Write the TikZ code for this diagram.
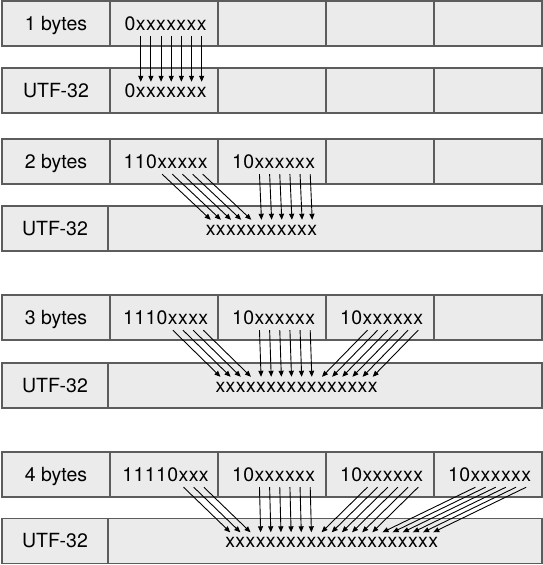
\documentclass[tikz,border=0pt]{standalone}
\usepackage{fontspec}
\setmainfont{TeX Gyre Heros}
\usepackage{tikz}
\usetikzlibrary{arrows.meta,calc}
\definecolor{cellfill}{HTML}{EBEBEB}
\definecolor{cellstroke}{HTML}{5C5C5C}
\newcommand{\bitfont}{\fontsize{19.5}{23}\selectfont}
\newlength{\bitlen}
\newlength{\zerowd}
\newlength{\xwd}
% glyph widths, taken before any picture (fonts are off inside one)
\AtBeginDocument{%
  \setbox0\hbox{\normalfont\bitfont 0}\global\zerowd=\wd0
  \setbox0\hbox{\normalfont\bitfont x}\global\xwd=\wd0
}
\tikzset{
  cell/.style={draw=cellstroke, fill=cellfill, line width=1.1pt,
               minimum width=108pt, minimum height=45pt, inner sep=0pt,
               text height=14pt, text depth=0pt, font=\bitfont},
  utfcell/.style={cell, minimum width=106pt},
  widecell/.style={cell, minimum width=434pt},
  bit/.style={inner xsep=0pt, inner ysep=5.5pt, text height=10pt,
              text depth=0pt, font=\bitfont},
  bitarrow/.style={-{Triangle[length=6pt,width=5pt]}, line width=0.9pt}
}
% one node per character, set side by side on a common baseline
\newcommand{\bitrow}[3]{%
  \edef\bitlist{#3}%
  \foreach \c [count=\i] in \bitlist {
    \ifnum\i=1\relax
      \node[bit, anchor=base west] (#1-\i) at (#2) {\c};
    \else
      \pgfmathtruncatemacro{\prevbit}{\i-1}
      \node[bit, anchor=base west] (#1-\i) at (#1-\prevbit.base east) {\c};
    \fi
  }%
}
% total width of such a row, kept in \rowwd (digits 0 and 1 are equally wide)
\newcommand{\bitwidth}[1]{%
  \gdef\rowwd{0}%
  \edef\bitlist{#1}%
  \foreach \c in \bitlist {%
    \if x\c \setlength{\bitlen}{\xwd}\else \setlength{\bitlen}{\zerowd}\fi
    \pgfmathsetmacro{\rowwdnew}{\rowwd+\bitlen}%
    \xdef\rowwd{\rowwdnew}%
  }%
}
% a row centred in a cell
\newcommand{\bytebits}[3]{%
  \bitwidth{#3}%
  \bitrow{#1}{$(#2.center)+(-\rowwd/2,-7)$}{#3}%
}

\begin{document}
\begin{tikzpicture}[x=1pt, y=1pt]
  \useasboundingbox (0,0) rectangle (543,565);

  % ===== Byte rows: label + four byte cells =====
  \foreach \r/\ytop/\lab in {1/541.5/1 bytes, 2/403.5/2 bytes,
                             3/247.5/3 bytes, 4/90.5/4 bytes} {
    \node[cell] (r\r-0) at (56,\ytop) {\lab};
    \foreach \k in {1,...,4}
      \node[cell] (r\r-\k) at (56+108*\k,\ytop) {};
  }

  % ===== UTF-32 rows =====
  \node[cell] (u1-0) at (56,474.5) {UTF-32};
  \foreach \k in {1,...,4}
    \node[cell] (u1-\k) at (56+108*\k,474.5) {};
  \foreach \r/\y in {2/336.5, 3/179.5, 4/24} {
    \node[utfcell]  (u\r-0) at (55,\y)  {UTF-32};
    \node[widecell] (u\r-1) at (325,\y) {};
  }

  % ===== Encoded bytes =====
  \foreach \nm/\cl/\bits in {
      b1-1/r1-1/{0,x,x,x,x,x,x,x},
      b2-1/r2-1/{1,1,0,x,x,x,x,x}, b2-2/r2-2/{1,0,x,x,x,x,x,x},
      b3-1/r3-1/{1,1,1,0,x,x,x,x}, b3-2/r3-2/{1,0,x,x,x,x,x,x},
      b3-3/r3-3/{1,0,x,x,x,x,x,x},
      b4-1/r4-1/{1,1,1,1,0,x,x,x}, b4-2/r4-2/{1,0,x,x,x,x,x,x},
      b4-3/r4-3/{1,0,x,x,x,x,x,x}, b4-4/r4-4/{1,0,x,x,x,x,x,x}} {
    \bytebits{\nm}{\cl}{\bits}
  }

  % ===== Code point bits =====
  % payload bits of the 2nd byte sit straight above their place
  \pgfmathsetmacro{\xw}{\xwd}
  \bytebits{t1}{u1-1}{0,x,x,x,x,x,x,x}
  \bitrow{t2}{$(b2-2-3.base west |- u2-1.center)+(-5*\xw,-7)$}
    {x,x,x,x,x,x,x,x,x,x,x}
  \bitrow{t3}{$(b3-2-3.base west |- u3-1.center)+(-4*\xw,-7)$}
    {x,x,x,x,x,x,x,x,x,x,x,x,x,x,x,x}
  \bitrow{t4}{$(b4-2-3.base west |- u4-1.center)+(-3*\xw,-7)$}
    {x,x,x,x,x,x,x,x,x,x,x,x,x,x,x,x,x,x,x,x,x}

  % ===== Bit arrows: row / byte / payload bits / offset in target =====
  \foreach \r/\k/\m/\off in {1/1/7/1,
                             2/1/5/0, 2/2/6/5,
                             3/1/4/0, 3/2/6/4, 3/3/6/10,
                             4/1/3/0, 4/2/6/3, 4/3/6/9, 4/4/6/15} {
    \foreach \j in {1,...,\m} {
      \pgfmathtruncatemacro{\src}{8-\m+\j}
      \pgfmathtruncatemacro{\dst}{\off+\j}
      \draw[bitarrow] (b\r-\k-\src.south) -- (t\r-\dst.north);
    }
  }

\end{tikzpicture}
\end{document}
